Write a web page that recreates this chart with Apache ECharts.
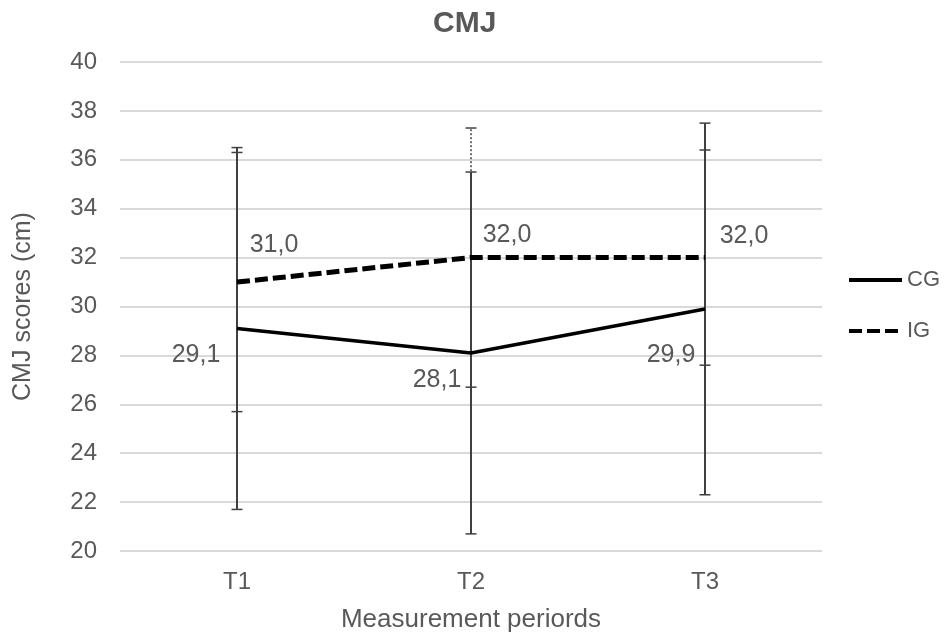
<!DOCTYPE html>
<html>
<head>
<meta charset="utf-8">
<script src="https://cdn.jsdelivr.net/npm/echarts@6/dist/echarts.min.js"></script>
<style>
  html, body { margin: 0; padding: 0; background: #fff; }
  #chart { width: 951px; height: 638px; }
</style>
</head>
<body>
<div id="chart"></div>
<script>
// Measurement periods and mean CMJ scores (cm) with standard deviations
const periods = ['T1', 'T2', 'T3'];
const cgMeans = [29.1, 28.1, 29.9];
const cgSD = [7.4, 7.4, 7.6];
const igMeans = [31.0, 32.0, 32.0];
const igSD = [5.3, 5.3, 4.4];
const yTicks = { min: 20, max: 40, step: 2 };

// Label placements relative to each point
const cgLabelOffsets = [[-41, 27], [-34, 27], [-34, 46]];
const igLabelOffsets = [[37, -37], [36, -22], [39, -21]];

const fmt = v => v.toFixed(1).replace('.', ',');
const textColor = '#595959';
const font = 'Liberation Sans, Arial, sans-serif';

function seriesData(means, offsets) {
  return means.map((v, i) => ({
    value: v,
    label: { offset: offsets[i] }
  }));
}

function errorData(means, sds) {
  return means.map((m, i) => [i, m - sds[i], m + sds[i]]);
}

function errorBars(dashed) {
  return function (params, api) {
    const lo = api.coord([api.value(0), api.value(1)]);
    const hi = api.coord([api.value(0), api.value(2)]);
    const half = 5.5;
    const style = {
      stroke: '#404040',
      lineWidth: dashed ? 1.5 : 2,
      lineDash: dashed ? [2, 2] : null
    };
    const cap = { stroke: '#404040', lineWidth: 1.5 };
    return {
      type: 'group',
      children: [
        { type: 'line', shape: { x1: lo[0], y1: lo[1], x2: hi[0], y2: hi[1] }, style: style },
        { type: 'line', shape: { x1: lo[0] - half, y1: lo[1], x2: lo[0] + half, y2: lo[1] }, style: cap },
        { type: 'line', shape: { x1: hi[0] - half, y1: hi[1], x2: hi[0] + half, y2: hi[1] }, style: cap }
      ]
    };
  };
}

const labelStyle = {
  show: true,
  position: 'inside',
  color: textColor,
  fontSize: 25,
  fontFamily: font,
  formatter: p => fmt(p.value)
};

const chart = echarts.init(document.getElementById('chart'), null, { renderer: 'canvas' });
chart.setOption({
  backgroundColor: '#ffffff',
  animation: false,
  title: {
    text: 'CMJ',
    left: 433,
    top: 9,
    padding: 0,
    textStyle: { color: textColor, fontSize: 30, fontWeight: 'bold', fontFamily: font }
  },
  grid: { left: 120, right: 129, top: 62, bottom: 87 },
  legend: {
    orient: 'vertical',
    left: 847,
    top: 269,
    padding: 0,
    itemWidth: 53,
    itemHeight: 14,
    itemGap: 29,
    itemStyle: { opacity: 0 },
    lineStyle: { width: 4 },
    textStyle: { color: textColor, fontSize: 22, fontFamily: font },
    data: ['CG', 'IG']
  },
  xAxis: {
    type: 'category',
    data: periods,
    boundaryGap: true,
    name: 'Measurement periords',
    nameLocation: 'middle',
    nameGap: 56,
    nameMoveOverlap: false,
    nameTextStyle: { color: textColor, fontSize: 26, fontFamily: font },
    axisLine: { show: false },
    axisTick: { show: false },
    axisLabel: { color: textColor, fontSize: 24, fontFamily: font, margin: 19 }
  },
  yAxis: {
    type: 'value',
    min: yTicks.min,
    max: yTicks.max,
    interval: yTicks.step,
    name: 'CMJ scores (cm)',
    nameLocation: 'middle',
    nameGap: 84,
    nameMoveOverlap: false,
    nameTextStyle: { color: textColor, fontSize: 25, fontFamily: font },
    axisLine: { show: false },
    axisTick: { show: false },
    axisLabel: { color: textColor, fontSize: 24, fontFamily: font, margin: 23 },
    splitLine: { lineStyle: { color: '#d9d9d9', width: 2 } }
  },
  series: [
    {
      name: 'CG-err',
      type: 'custom',
      renderItem: errorBars(false),
      data: errorData(cgMeans, cgSD),
      encode: { x: 0, y: [1, 2] },
      z: 1,
      silent: true
    },
    {
      name: 'IG-err',
      type: 'custom',
      renderItem: errorBars(true),
      data: errorData(igMeans, igSD),
      encode: { x: 0, y: [1, 2] },
      z: 1,
      silent: true
    },
    {
      name: 'CG',
      type: 'line',
      data: seriesData(cgMeans, cgLabelOffsets),
      symbol: 'circle',
      symbolSize: 1,
      itemStyle: { color: '#000' },
      lineStyle: { color: '#000', width: 3.5 },
      label: labelStyle,
      z: 3
    },
    {
      name: 'IG',
      type: 'line',
      data: seriesData(igMeans, igLabelOffsets),
      symbol: 'circle',
      symbolSize: 1,
      itemStyle: { color: '#000' },
      lineStyle: { color: '#000', width: 5, type: [13, 5] },
      label: labelStyle,
      z: 3
    }
  ]
});
</script>
</body>
</html>
